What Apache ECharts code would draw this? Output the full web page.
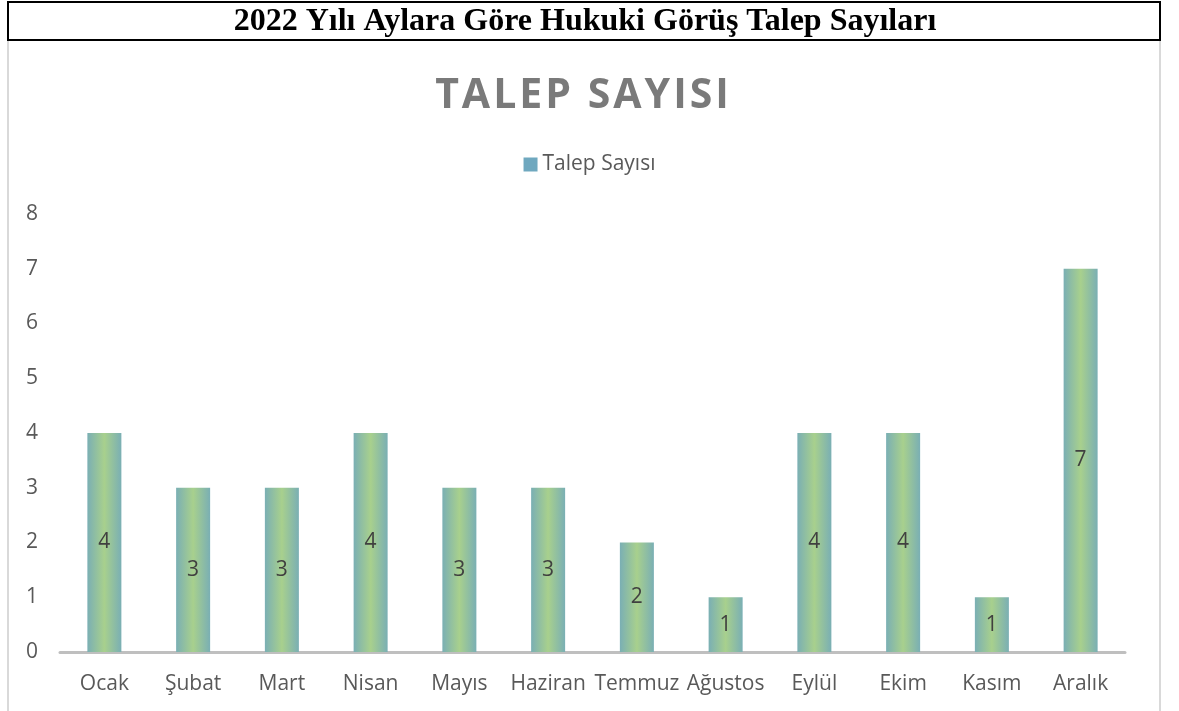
<!DOCTYPE html>
<html><head><meta charset="utf-8">
<script src="https://cdn.jsdelivr.net/npm/echarts@6/dist/echarts.min.js"></script>
<style>
html,body{margin:0;padding:0;background:#fff}
#wrap{position:relative;width:1179px;height:711px}
#c{width:1179px;height:711px}
#t{position:absolute;left:-6px;width:1179px;top:64px;text-align:center;font:bold 41px "Open Sans","Noto Sans",sans-serif;letter-spacing:3px;color:#7a7a7a;line-height:56px}
</style>
</head><body><div id="wrap"><div id="c"></div><div id="t"></div></div>
<script>
const months = ['Ocak','Şubat','Mart','Nisan','Mayıs','Haziran','Temmuz','Ağustos','Eylül','Ekim','Kasım','Aralık'];
const talepSayisi = [4,3,3,4,3,3,2,1,4,4,1,7];
const yTicks = {min:0, max:8, interval:1};
const headerText = '2022 Yılı Aylara Göre Hukuki Görüş Talep Sayıları';
const chartTitle = 'TALEP SAYISI';
const seriesName = 'Talep Sayısı';

document.getElementById('t').textContent = chartTitle;
const chart = echarts.init(document.getElementById('c'), null, {renderer:'canvas'});
const font = '"Open Sans","Noto Sans",sans-serif';
const barGrad = new echarts.graphic.LinearGradient(0,0,1,0,[
  {offset:0,color:'#7aafb4'},
  {offset:0.5,color:'#a8d08d'},
  {offset:1,color:'#7aafb4'}
]);
chart.setOption({
  animation:false,
  graphic:[
    {type:'rect',shape:{x:8,y:2,width:1152,height:38},style:{fill:'#fff',stroke:'#000',lineWidth:2},z:10},
    {type:'text',x:585,y:22,style:{text:headerText,font:'bold 32px "Liberation Serif", serif',fill:'#000',align:'center',verticalAlign:'middle'},z:11},
    {type:'line',shape:{x1:8,y1:41,x2:8,y2:711},style:{stroke:'#d9d9d9',lineWidth:2}},
    {type:'line',shape:{x1:1160,y1:41,x2:1160,y2:711},style:{stroke:'#d9d9d9',lineWidth:2}}
  ],
  legend:{top:149,left:'center',itemWidth:14,itemHeight:14,itemGap:6,icon:'rect',
    textStyle:{fontFamily:font,fontSize:21,color:'#595959'},data:[{name:seriesName,itemStyle:{color:'#6fa8bf'}}]},
  grid:{left:60,right:54,top:214,bottom:59,containLabel:false},
  xAxis:{type:'category',data:months,
    axisLine:{lineStyle:{color:'#bfbfbf',width:3}},axisTick:{show:false},
    axisLabel:{fontFamily:font,fontSize:21,color:'#595959',margin:22,interval:0}},
  yAxis:{type:'value',min:yTicks.min,max:yTicks.max,interval:yTicks.interval,
    splitLine:{show:false},axisLine:{show:false},axisTick:{show:false},
    axisLabel:{fontFamily:font,fontSize:21,color:'#595959',margin:22}},
  series:[{name:seriesName,type:'bar',data:talepSayisi,barWidth:34,
    itemStyle:{color:barGrad},
    label:{show:true,position:'inside',fontFamily:font,fontSize:21,color:'#404040'}}]
});
</script></body></html>
